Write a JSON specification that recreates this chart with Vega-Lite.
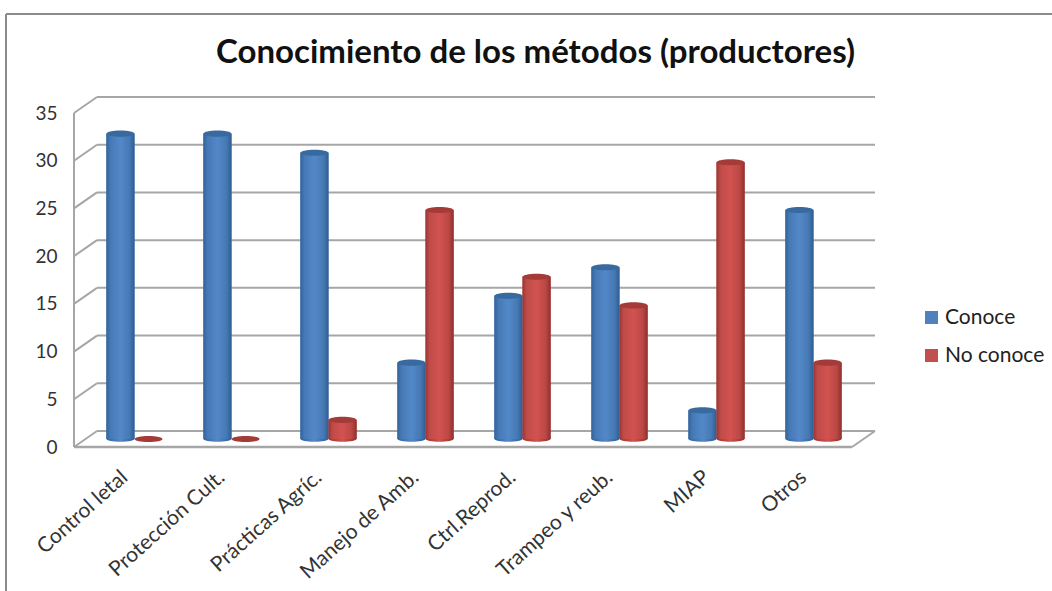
{
  "$schema": "https://vega.github.io/schema/vega-lite/v6.json",
  "width": 801,
  "height": 351,
  "autosize": {"type": "none"},
  "padding": {"left": 74, "top": 96, "right": 177, "bottom": 144},
  "background": "white",
  "view": {"stroke": null},
  "title": {
    "text": "Conocimiento de los métodos (productores)",
    "font": "Lato", "fontSize": 33, "fontWeight": "bold", "color": "#111111",
    "anchor": "middle", "frame": "group", "dx": 61, "offset": 28, "dy": 85
  },
  "config": {"axis": {"labelFont": "Lato", "labelColor": "#333333"}, "legend": {"labelFont": "Lato"}},
  "datasets": {
    "metodos": [
      {"metodo": "Control letal", "serie": "Conoce", "valor": 32},
      {"metodo": "Control letal", "serie": "No conoce", "valor": 0},
      {"metodo": "Protección Cult.", "serie": "Conoce", "valor": 32},
      {"metodo": "Protección Cult.", "serie": "No conoce", "valor": 0},
      {"metodo": "Prácticas Agríc.", "serie": "Conoce", "valor": 30},
      {"metodo": "Prácticas Agríc.", "serie": "No conoce", "valor": 2},
      {"metodo": "Manejo de Amb.", "serie": "Conoce", "valor": 8},
      {"metodo": "Manejo de Amb.", "serie": "No conoce", "valor": 24},
      {"metodo": "Ctrl.Reprod.", "serie": "Conoce", "valor": 15},
      {"metodo": "Ctrl.Reprod.", "serie": "No conoce", "valor": 17},
      {"metodo": "Trampeo y reub.", "serie": "Conoce", "valor": 18},
      {"metodo": "Trampeo y reub.", "serie": "No conoce", "valor": 14},
      {"metodo": "MIAP", "serie": "Conoce", "valor": 3},
      {"metodo": "MIAP", "serie": "No conoce", "valor": 29},
      {"metodo": "Otros", "serie": "Conoce", "valor": 24},
      {"metodo": "Otros", "serie": "No conoce", "valor": 8}
    ],
    "niveles": [{"nivel": 0}, {"nivel": 5}, {"nivel": 10}, {"nivel": 15}, {"nivel": 20}, {"nivel": 25}, {"nivel": 30}, {"nivel": 35}],
    "suelo": [{"nivel": 0}]
  },
  "data": {"name": "metodos"},
  "layer": [
    {
      "description": "Frame around the chart",
      "data": {"name": "suelo"},
      "mark": {"type": "rule", "color": "#8a8a8a", "strokeWidth": 2},
      "encoding": {"x": {"value": -68}, "x2": {"value": 978}, "y": {"value": -82}}
    },
    {
      "data": {"name": "suelo"},
      "mark": {"type": "rule", "color": "#8a8a8a", "strokeWidth": 2},
      "encoding": {"x": {"value": -68}, "y": {"value": -82}, "y2": {"value": 495}}
    },
    {
      "description": "Gridlines on the back wall",
      "data": {"name": "niveles"},
      "mark": {"type": "rule", "color": "#a6a6a6", "strokeWidth": 2, "yOffset": -16},
      "encoding": {
        "x": {"value": 23}, "x2": {"value": 801},
        "y": {
          "field": "nivel", "type": "quantitative", "title": null,
          "scale": {"domain": [0, 35], "range": [351, 17]},
          "axis": {"values": [0, 5, 10, 15, 20, 25, 30, 35], "labelFontSize": 19, "labelPadding": 17, "domain": false, "ticks": false, "grid": false}
        }
      }
    },
    {
      "description": "Gridlines running along the side wall",
      "data": {"name": "niveles"},
      "mark": {"type": "rule", "color": "#a6a6a6", "strokeWidth": 2, "y2Offset": -16},
      "encoding": {
        "x": {"value": 0}, "x2": {"value": 23},
        "y": {"field": "nivel", "type": "quantitative"},
        "y2": {"field": "nivel"}
      }
    },
    {
      "description": "Front edge of the side wall",
      "data": {"name": "suelo"},
      "mark": {"type": "rule", "color": "#a6a6a6", "strokeWidth": 2},
      "encoding": {"x": {"value": 0}, "y": {"value": 17}, "y2": {"value": 351}}
    },
    {
      "description": "Front and right edges of the floor",
      "data": {"name": "suelo"},
      "mark": {"type": "rule", "color": "#a6a6a6", "strokeWidth": 2.5},
      "encoding": {"x": {"value": 0}, "x2": {"value": 778}, "y": {"field": "nivel", "type": "quantitative"}}
    },
    {
      "data": {"name": "suelo"},
      "mark": {"type": "rule", "color": "#a6a6a6", "strokeWidth": 2, "y2Offset": -16},
      "encoding": {
        "x": {"value": 778}, "x2": {"value": 801},
        "y": {"field": "nivel", "type": "quantitative"},
        "y2": {"field": "nivel"}
      }
    },
    {
      "description": "Flat bars carrying the series colours and the category axis",
      "mark": {"type": "bar", "yOffset": -8},
      "encoding": {
        "x": {
          "field": "metodo", "type": "nominal", "sort": null, "title": null,
          "scale": {"range": [12, 788], "paddingInner": 0.42, "paddingOuter": 0.21},
          "axis": {"labelAngle": -42, "labelFontSize": 21, "labelAlign": "right", "labelBaseline": "top", "labelPadding": 19, "labelOffset": -17, "domain": false, "ticks": false}
        },
        "xOffset": {"field": "serie", "type": "nominal", "sort": ["Conoce", "No conoce"]},
        "y": {"field": "valor", "type": "quantitative"},
        "color": {
          "field": "serie", "type": "nominal", "title": null,
          "scale": {"domain": ["Conoce", "No conoce"], "range": ["#4f81bd", "#c0504d"]},
          "legend": {"orient": "none", "legendX": 847, "legendY": 211, "labelFontSize": 21, "labelColor": "#222222", "symbolType": "square", "symbolSize": 169, "symbolStrokeWidth": 0, "rowPadding": 16, "labelOffset": 3}
        }
      }
    },
    {
      "description": "Rounded feet of the blue cylinders",
      "transform": [{"filter": "datum.serie == 'Conoce' && datum.valor > 0"}],
      "mark": {"type": "point", "filled": true, "opacity": 1, "size": 784, "shape": "M-1,0A1,0.2 0 1 0 1,0A1,0.2 0 1 0 -1,0Z", "yOffset": -8, "fill": {"x1": 0, "y1": 0, "x2": 1, "y2": 0, "gradient": "linear", "stops": [{"offset": 0, "color": "#33639b"}, {"offset": 0.5, "color": "#5388c8"}, {"offset": 1, "color": "#2f5d92"}]}},
      "encoding": {
        "x": {"field": "metodo", "type": "nominal", "sort": null},
        "xOffset": {"field": "serie", "type": "nominal", "sort": ["Conoce", "No conoce"]},
        "y": {"datum": 0, "type": "quantitative"}
      }
    },
    {
      "description": "Rounded feet of the red cylinders",
      "transform": [{"filter": "datum.serie == 'No conoce' && datum.valor > 0"}],
      "mark": {"type": "point", "filled": true, "opacity": 1, "size": 784, "shape": "M-1,0A1,0.2 0 1 0 1,0A1,0.2 0 1 0 -1,0Z", "yOffset": -8, "fill": {"x1": 0, "y1": 0, "x2": 1, "y2": 0, "gradient": "linear", "stops": [{"offset": 0, "color": "#9c3532"}, {"offset": 0.5, "color": "#d2524f"}, {"offset": 1, "color": "#8f2f2c"}]}},
      "encoding": {
        "x": {"field": "metodo", "type": "nominal", "sort": null},
        "xOffset": {"field": "serie", "type": "nominal", "sort": ["Conoce", "No conoce"]},
        "y": {"datum": 0, "type": "quantitative"}
      }
    },
    {
      "description": "Shaded blue cylinder bodies",
      "transform": [{"filter": "datum.serie == 'Conoce'"}],
      "mark": {"type": "bar", "yOffset": -8, "fill": {"x1": 0, "y1": 0, "x2": 1, "y2": 0, "gradient": "linear", "stops": [{"offset": 0, "color": "#33639b"}, {"offset": 0.15, "color": "#4679b6"}, {"offset": 0.5, "color": "#5388c8"}, {"offset": 0.82, "color": "#4679b4"}, {"offset": 1, "color": "#2f5d92"}]}},
      "encoding": {
        "x": {"field": "metodo", "type": "nominal", "sort": null},
        "xOffset": {"field": "serie", "type": "nominal", "sort": ["Conoce", "No conoce"]},
        "y": {"field": "valor", "type": "quantitative"}
      }
    },
    {
      "description": "Shaded red cylinder bodies",
      "transform": [{"filter": "datum.serie == 'No conoce'"}],
      "mark": {"type": "bar", "yOffset": -8, "fill": {"x1": 0, "y1": 0, "x2": 1, "y2": 0, "gradient": "linear", "stops": [{"offset": 0, "color": "#9c3532"}, {"offset": 0.15, "color": "#bf4c49"}, {"offset": 0.5, "color": "#d2524f"}, {"offset": 0.82, "color": "#bb4845"}, {"offset": 1, "color": "#8f2f2c"}]}},
      "encoding": {
        "x": {"field": "metodo", "type": "nominal", "sort": null},
        "xOffset": {"field": "serie", "type": "nominal", "sort": ["Conoce", "No conoce"]},
        "y": {"field": "valor", "type": "quantitative"}
      }
    },
    {
      "description": "Elliptical caps on top of each cylinder",
      "mark": {"type": "point", "filled": true, "opacity": 1, "size": 784, "shape": "M-1,0A1,0.22 0 1 1 1,0A1,0.22 0 1 1 -1,0Z", "yOffset": -8},
      "encoding": {
        "x": {"field": "metodo", "type": "nominal", "sort": null},
        "xOffset": {"field": "serie", "type": "nominal", "sort": ["Conoce", "No conoce"]},
        "y": {"field": "valor", "type": "quantitative"},
        "fill": {"field": "serie", "type": "nominal", "scale": {"domain": ["Conoce", "No conoce"], "range": ["#386a9f", "#a43b38"]}, "legend": null}
      }
    }
  ]
}
